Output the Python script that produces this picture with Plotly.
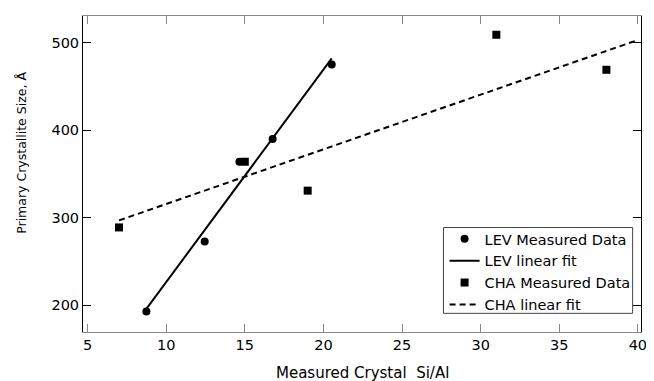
import plotly.graph_objects as go

lev_x = [8.74, 12.45, 14.66, 16.77, 20.53]
lev_y = [193, 273, 364, 390, 475]
lev_fit_x = [8.74, 20.53]
lev_fit_y = [196, 482]

cha_x = [7.0, 15.0, 19.0, 31.0, 38.0]
cha_y = [289, 364, 331, 509, 469]
cha_fit_x = [7.0, 40.0]
cha_fit_y = [297, 503]

x_ticks = [5, 10, 15, 20, 25, 30, 35, 40]
y_ticks = [200, 300, 400, 500]

FONT = "DejaVu Sans"

fig = go.Figure()
fig.add_trace(go.Scatter(x=lev_x, y=lev_y, mode="markers", name="LEV Measured Data",
                         marker=dict(symbol="circle", size=8, color="black")))
fig.add_trace(go.Scatter(x=lev_fit_x, y=lev_fit_y, mode="lines", name="LEV linear fit",
                         line=dict(color="black", width=2)))
fig.add_trace(go.Scatter(x=cha_x, y=cha_y, mode="markers", name="CHA Measured Data",
                         marker=dict(symbol="square", size=8, color="black")))
fig.add_trace(go.Scatter(x=cha_fit_x, y=cha_fit_y, mode="lines", name="CHA linear fit",
                         line=dict(color="black", width=2, dash="6px,4px")))

# page body has an 8px margin, so the figure is offset by 8px
fig.update_layout(
    width=646, height=373,
    margin=dict(l=75, r=7.5, t=7, b=49.3),
    paper_bgcolor="white", plot_bgcolor="white",
    font=dict(family=FONT, size=14.5, color="black"),
    showlegend=True,
    legend=dict(x=0.648, y=0.035, xanchor="left", yanchor="bottom",
                borderwidth=0, bgcolor="rgba(0,0,0,0)",
                font=dict(family=FONT, size=14.5), tracegroupgap=0,
                itemwidth=30),
    shapes=[
        dict(type="rect", xref="paper", yref="paper",
             x0=0.646, x1=0.985, y0=0.059, y1=0.3306,
             line=dict(color="#444", width=1), fillcolor="white", layer="below"),
    ],
    xaxis=dict(range=[4.71, 40.2], tickvals=x_ticks, ticks="inside", ticklen=8,
               tickcolor="#888", linecolor="#888", linewidth=1, mirror="ticks",
               showgrid=False, zeroline=False, tickfont=dict(size=14.5)),
    yaxis=dict(range=[169.6, 530.4], tickvals=y_ticks, ticks="inside", ticklen=8,
               tickcolor="black", linecolor="black", linewidth=1, mirror="ticks",
               showgrid=False, zeroline=False, tickfont=dict(size=14.5)),
    annotations=[
        dict(text="Measured Crystal  Si/Al", xref="paper", yref="paper",
             x=0.5, y=-0.130, xanchor="center", yanchor="middle", showarrow=False,
             font=dict(family=FONT, size=15)),
        dict(text="Primary Crystallite Size, Å", xref="paper", yref="paper",
             x=0, xshift=-61, y=0.567, xanchor="center", yanchor="middle",
             textangle=-90, showarrow=False, font=dict(family=FONT, size=12.5)),
    ],
)

fig.write_html("out.html")
